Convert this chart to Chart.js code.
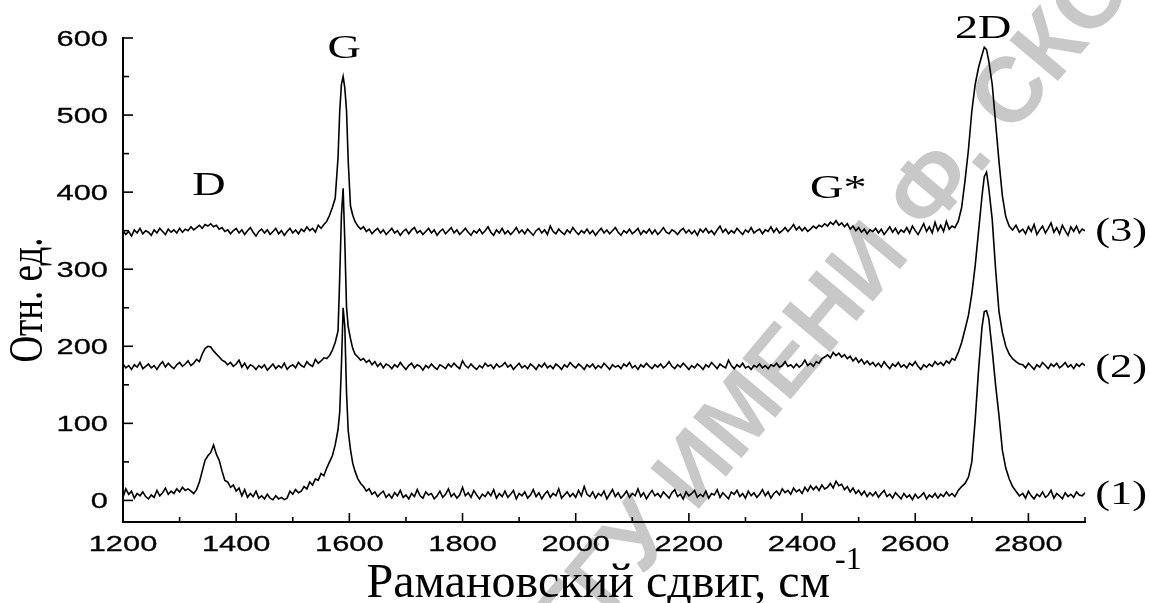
<!DOCTYPE html>
<html><head><meta charset="utf-8">
<script src="https://cdn.jsdelivr.net/npm/chart.js@4.4.1/dist/chart.umd.min.js"></script>
<style>html,body{margin:0;padding:0;background:#fff;overflow:hidden}canvas{display:block}</style>
</head><body>
<canvas id="c" width="1150" height="603"></canvas>
<script>
// Raman shift (cm-1) sample positions
const ramanShift = [
1200,1205,1210,1215,1220,1225,1230,1235,1240,1245,
1250,1255,1260,1265,1270,1275,1280,1285,1290,1295,
1300,1305,1310,1315,1320,1325,1330,1335,1340,1345,
1350,1355,1360,1365,1370,1375,1380,1385,1390,1395,
1400,1405,1410,1415,1420,1425,1430,1435,1440,1445,
1450,1455,1460,1465,1470,1475,1480,1485,1490,1495,
1500,1505,1510,1515,1520,1525,1530,1535,1540,1545,
1550,1555,
1560,1565,1570,1575,1580,1583,1586,1589,1592,1595,1598,1602,1606,1610,1615,1620,
1625,1630,1635,1640,1645,1650,1655,1660,1665,1670,
1675,1680,1685,1690,1695,1700,1705,1710,1715,1720,
1725,1730,1735,1740,1745,1750,1755,1760,1765,1770,
1775,1780,1785,1790,1795,1800,1805,1810,1815,1820,
1825,1830,1835,1840,1845,1850,1855,1860,1865,1870,
1875,1880,1885,1890,1895,1900,1905,1910,1915,1920,
1925,1930,1935,1940,1945,1950,1955,1960,1965,1970,
1975,1980,1985,1990,1995,2000,2005,2010,2015,2020,
2025,2030,2035,2040,2045,2050,2055,2060,2065,2070,
2075,2080,2085,2090,2095,2100,2105,2110,2115,2120,
2125,2130,2135,2140,2145,2150,2155,2160,2165,2170,
2175,2180,2185,2190,2195,2200,2205,2210,2215,2220,
2225,2230,2235,2240,2245,2250,2255,2260,2265,2270,
2275,2280,2285,2290,2295,2300,2305,2310,2315,2320,
2325,2330,2335,2340,2345,2350,2355,2360,2365,2370,
2375,2380,2385,2390,2395,2400,2405,2410,2415,2420,
2425,2430,2435,2440,2445,2450,2455,2460,2465,2470,
2475,2480,2485,2490,2495,2500,2505,2510,2515,2520,
2525,2530,2535,2540,2545,2550,2555,2560,2565,2570,
2575,2580,2585,2590,2595,2600,2605,2610,2615,2620,
2625,2630,2635,2640,2645,2650,2655,2660,2665,
2670,2676,2682,2688,2694,2700,2706,2712,2718,2722,2726,2730,2736,2742,2748,2754,2760,2766,2772,2778,2784,
2790,2795,2800,2805,2810,2815,2820,2825,2830,2835,
2840,2845,2850,2855,2860,2865,2870,2875,2880,2885,
2890,2895,2900];

// Spectrum (1) — bottom trace
const spectrum1 = [
4,15,8,12,3,9,6,11,5,2,
7,4,13,6,10,16,8,12,9,15,
11,17,13,15,12,9,14,24,38,52,
58,62,72,60,52,38,26,24,17,20,
12,16,6,14,4,9,5,12,3,6,
2,8,3,1,6,2,4,1,3,12,
8,14,10,12,18,15,24,20,28,26,
35,32,
42,50,58,72,92,115,175,250,225,140,90,66,48,38,28,22,
18,12,15,8,11,5,9,12,4,8,
3,10,6,13,4,7,2,9,5,14,
6,3,11,7,9,2,6,12,4,8,
15,5,9,3,7,17,6,10,4,13,
7,2,8,5,11,6,14,3,9,5,
12,4,8,13,2,9,6,11,3,7,
14,5,10,2,8,12,4,9,6,15,
3,7,11,5,9,4,13,6,18,8,
5,11,3,9,6,12,2,8,14,5,
10,3,7,12,4,9,6,15,5,10,
2,8,13,6,9,4,11,7,3,10,
14,5,8,2,11,6,9,13,4,8,
5,12,3,9,7,14,4,10,6,2,
11,8,13,5,9,3,12,6,10,4,
8,14,6,11,3,9,12,7,15,10,
13,8,16,11,14,9,17,12,19,14,
18,13,20,15,17,22,16,25,19,21,
14,18,11,16,9,13,7,12,5,10,
6,11,4,9,13,5,8,3,10,6,
2,9,4,7,1,8,3,6,10,2,
7,4,9,3,8,5,11,6,9,
5,13,18,22,30,50,105,170,225,245,246,236,195,150,110,65,42,28,18,12,6,
9,3,12,6,2,8,5,11,4,7,
13,3,9,6,2,10,5,8,4,11,
7,6,10];

// Spectrum (2) — middle trace
const spectrum2 = [
177,172,175,170,176,173,179,171,174,177,
172,175,170,176,180,173,178,174,171,176,
179,174,177,181,175,178,183,180,190,197,
200,199,194,190,186,182,180,176,179,174,
177,182,173,178,171,176,174,170,175,172,
176,169,173,177,171,175,172,178,170,174,
176,172,179,175,173,180,176,174,183,178,
181,185,
184,188,195,205,220,290,370,405,335,251,225,210,197,190,186,182,
184,179,182,176,180,174,178,172,177,175,
171,176,173,179,174,170,175,178,172,176,
174,169,175,172,177,173,170,176,174,171,
177,173,178,174,171,181,175,172,177,173,
170,175,172,178,174,176,171,177,173,175,
179,173,176,170,174,178,172,175,171,177,
174,170,176,173,178,172,175,171,177,174,
170,176,173,179,175,172,177,174,170,176,
173,177,171,175,172,178,174,170,176,173,
175,171,177,174,179,172,175,170,176,173,
178,174,171,176,173,177,172,175,180,174,
171,176,173,178,174,170,175,172,177,174,
170,176,173,179,175,171,177,174,172,182,
175,171,176,173,178,172,174,170,175,173,
177,172,175,171,176,174,178,173,175,180,
174,176,172,177,173,176,182,175,178,174,
180,178,184,186,189,185,192,188,191,186,
189,184,187,181,185,179,183,177,181,176,
179,174,178,173,180,175,171,177,174,179,
173,176,172,178,175,180,174,170,176,173,
177,174,180,176,179,175,181,178,184,
182,192,205,222,240,268,305,350,395,420,426,405,365,300,245,218,200,190,184,180,177,
176,172,178,174,170,176,173,179,175,171,
177,174,178,172,175,179,173,176,171,177,
174,178,175];

// Spectrum (3) — top trace
const spectrum3 = [
350,345,349,343,351,347,353,346,350,348,
344,351,347,353,349,345,352,348,351,347,
353,348,352,350,355,351,354,357,353,358,
356,359,355,357,352,354,349,351,346,350,
353,347,351,345,350,354,348,343,349,352,
347,351,345,349,353,346,350,344,349,353,
347,351,346,352,349,355,350,353,348,357,
353,358,
362,370,380,392,445,505,540,550,535,506,440,382,370,362,356,352,
355,349,352,346,350,353,347,351,345,349,
353,347,350,344,349,352,346,351,354,347,
350,345,349,353,347,351,344,349,352,346,
350,354,347,351,345,349,353,348,344,350,
347,352,346,350,355,348,344,351,347,353,
346,350,345,349,354,347,351,346,352,348,
344,350,353,347,351,345,356,349,346,352,
348,345,351,347,354,349,345,350,347,352,
346,350,344,349,353,347,351,346,350,354,
348,344,350,347,352,346,349,353,345,350,
347,352,346,351,345,349,354,348,346,351,
349,345,350,353,347,351,346,350,344,352,
348,353,347,350,345,351,356,348,352,346,
350,347,353,349,345,351,348,354,347,350,
352,346,351,349,355,348,353,347,350,354,
349,353,358,351,355,350,354,349,352,356,
353,357,355,359,356,361,358,363,357,360,
355,359,352,356,350,354,348,352,346,351,
349,353,347,352,345,350,355,348,353,346,
351,348,354,347,356,350,345,352,359,349,
355,347,361,350,357,349,362,352,356,
354,362,380,415,455,505,540,562,578,588,585,570,540,490,440,395,368,356,351,357,348,
352,346,355,349,358,345,351,356,347,353,
360,348,354,346,357,350,344,355,349,356,
347,352,350];

const xTicks = [1200,1400,1600,1800,2000,2200,2400,2600,2800];
const xMinorTicks = [1300,1500,1700,1900,2100,2300,2500,2700,2900];
const yTicks = [0,100,200,300,400,500,600];
const yMinorTicks = [50,150,250,350,450,550];

const peakLabels = ['G','D','G*','2D'];
const peakLabelX = [1591,1352,2464,2720];
const peakLabelY = [574,396,393,600];
const curveLabels = ['(3)','(2)','(1)'];
const curveLabelY = [336,160,-4];
const curveLabelX = 2918;

const xTitle = 'Рамановский сдвиг, см';
const xTitleSup = '-1';
const yTitle = 'Отн. ед.';
const watermark = 'РЕПОЗИТОРИЙ ГГУ ИМЕНИ Ф. СКОРИНЫ';

function txt(ctx, s, x, y, font, align, sx, bold) {
  ctx.save();
  ctx.font = font; ctx.textAlign = align; ctx.textBaseline = 'alphabetic';
  ctx.fillStyle = '#000'; ctx.strokeStyle = '#000';
  ctx.translate(x, y); ctx.scale(sx, 1);
  ctx.fillText(s, 0, 0);
  if (bold) { ctx.lineWidth = bold; ctx.strokeText(s, 0, 0); }
  ctx.restore();
}

const decor = {
  id: 'decor',
  beforeDatasetsDraw(chart) {
    const ctx = chart.ctx;
    ctx.save();
    const fs = 92;
    ctx.font = 'bold ' + fs + 'px "Liberation Sans"';
    const w1 = ctx.measureText('РЕПОЗИТОРИЙ ГГУ ИМЕНИ Ф').width;
    const wd = ctx.measureText('.').width;
    ctx.translate(983, 163);
    ctx.rotate(-50 * Math.PI / 180);
    ctx.fillStyle = '#c8c8c8';
    ctx.textAlign = 'left'; ctx.textBaseline = 'alphabetic';
    ctx.fillText(watermark, -(w1 + wd / 2), 0.05 * fs);
    ctx.restore();
  },
  afterDatasetsDraw(chart) {
    const {ctx, chartArea: a, scales: {x, y}} = chart;
    ctx.save();
    ctx.strokeStyle = '#000';
    ctx.lineWidth = 2; ctx.lineCap = 'square';
    ctx.beginPath();
    ctx.moveTo(a.left, a.top); ctx.lineTo(a.left, a.bottom); ctx.lineTo(a.right, a.bottom);
    ctx.stroke();
    ctx.lineWidth = 1.6; ctx.lineCap = 'butt';
    const seg = (x1, y1, x2, y2) => { ctx.beginPath(); ctx.moveTo(x1, y1); ctx.lineTo(x2, y2); ctx.stroke(); };
    yTicks.forEach(v => { const p = y.getPixelForValue(v); seg(a.left, p, a.left + 10, p); });
    yMinorTicks.forEach(v => { const p = y.getPixelForValue(v); seg(a.left, p, a.left + 6, p); });
    xTicks.forEach(v => { const p = x.getPixelForValue(v); seg(p, a.bottom, p, a.bottom - 9); });
    xMinorTicks.forEach(v => { const p = x.getPixelForValue(v); seg(p, a.bottom, p, a.bottom - 5); });
    ctx.restore();

    const tickFont = '22px "Liberation Sans"';
    yTicks.forEach(v => txt(ctx, String(v), a.left - 15, y.getPixelForValue(v) + 8, tickFont, 'right', 1.4, 0.3));
    xTicks.forEach(v => txt(ctx, String(v), x.getPixelForValue(v), a.bottom + 29, tickFont, 'center', 1.4, 0.3));

    const lblFont = '33px "Liberation Serif"';
    peakLabels.forEach((s, i) => txt(ctx, s, x.getPixelForValue(peakLabelX[i]), y.getPixelForValue(peakLabelY[i]), lblFont, 'center', 1.4));
    curveLabels.forEach((s, i) => txt(ctx, s, x.getPixelForValue(curveLabelX), y.getPixelForValue(curveLabelY[i]), lblFont, 'left', 1.35));

    // x-axis title with superscript
    ctx.save();
    const tf = '48px "Liberation Serif"', sf = '32px "Liberation Serif"';
    ctx.font = tf; const wm = ctx.measureText(xTitle).width;
    ctx.restore();
    const xEnd = 830;
    txt(ctx, xTitle, xEnd - wm, 597, tf, 'left', 1);
    txt(ctx, xTitleSup, xEnd + 5, 569, sf, 'left', 1);

    // y-axis title (rotated)
    ctx.save();
    ctx.font = '37px "Liberation Serif"'; ctx.fillStyle = '#000';
    ctx.textAlign = 'center'; ctx.textBaseline = 'alphabetic';
    ctx.translate(42, 300); ctx.scale(1.3, 1); ctx.rotate(-Math.PI / 2);
    ctx.fillText(yTitle, 0, 0);
    ctx.restore();
  }
};

const mk = arr => ramanShift.map((v, i) => ({x: v, y: arr[i]}));
const ds = (arr) => ({data: mk(arr), borderColor: '#000', borderWidth: 1.6, pointRadius: 0, tension: 0, fill: false});

new Chart(document.getElementById('c'), {
  type: 'line',
  data: {datasets: [ds(spectrum1), ds(spectrum2), ds(spectrum3)]},
  options: {
    responsive: false, animation: false,
    layout: {padding: {left: 0, right: 65, top: 38, bottom: 0}},
    plugins: {legend: {display: false}, tooltip: {enabled: false}},
    scales: {
      x: {type: 'linear', min: 1200, max: 2900,
          ticks: {display: false}, grid: {display: false, drawTicks: false}, border: {display: false},
          afterFit(s) { s.height = 81; }},
      y: {type: 'linear', min: -28, max: 600,
          ticks: {display: false}, grid: {display: false, drawTicks: false}, border: {display: false},
          afterFit(s) { s.width = 123; }}
    }
  },
  plugins: [decor]
});
</script>
</body></html>
